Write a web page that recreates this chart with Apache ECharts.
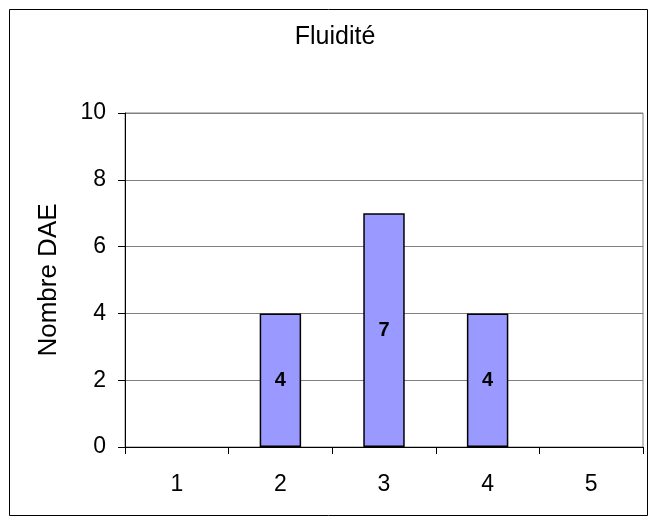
<!DOCTYPE html>
<html><head><meta charset="utf-8">
<script src="https://cdn.jsdelivr.net/npm/echarts@6/dist/echarts.min.js"></script>
<style>html,body{margin:0;padding:0;background:#fff}#c{width:656px;height:526px}</style>
</head><body><div id="c"></div>
<script>
const categories = ['1','2','3','4','5'];
const values = [0,4,7,4,0];
const yTicks = [0,2,4,6,8,10];
const titleText = 'Fluidité';
const yName = 'Nombre DAE';
const F = 'Liberation Sans, Arial, sans-serif';
const chart = echarts.init(document.getElementById('c'));
chart.setOption({
  animation:false,
  backgroundColor:'#fff',
  graphic:[
    {type:'rect',shape:{x:9.5,y:9.5,width:638,height:506},style:{fill:'none',stroke:'#000',lineWidth:1}},
    {type:'text',x:335,y:37,style:{text:titleText,font:'25px '+F,fill:'#000',textAlign:'center',textVerticalAlign:'middle'}}
  ],
  grid:{left:125,right:13,top:113,bottom:79,show:true,borderColor:'#808080',borderWidth:1,backgroundColor:'#fff'},
  xAxis:{type:'category',data:categories,
    axisLine:{lineStyle:{color:'#000',width:1}},
    axisTick:{show:true,length:7,alignWithLabel:false,lineStyle:{color:'#000'}},
    axisLabel:{fontFamily:F,fontSize:23,color:'#000',margin:26}},
  yAxis:{type:'value',min:0,max:10,interval:2,
    name:yName,nameLocation:'middle',nameGap:63,nameRotate:90,
    nameTextStyle:{fontFamily:F,fontSize:26,color:'#000'},
    axisLine:{show:true,lineStyle:{color:'#000',width:1}},
    axisTick:{show:true,length:7,lineStyle:{color:'#000'}},
    axisLabel:{fontFamily:F,fontSize:23,color:'#000',margin:19,
      formatter:v=>yTicks.includes(v)?String(v):''},
    splitLine:{show:true,lineStyle:{color:'#808080',width:1}}},
  series:[{type:'bar',barWidth:'40%',
    data:values.map(v=>v===0?{value:v,itemStyle:{opacity:0}}:v),
    itemStyle:{color:'#9999FF',borderColor:'#000',borderWidth:1.5},
    label:{show:true,position:'inside',fontFamily:F,fontSize:20,fontWeight:'bold',color:'#000',
      formatter:p=>p.value>0?String(p.value):''}}]
});
</script></body></html>
